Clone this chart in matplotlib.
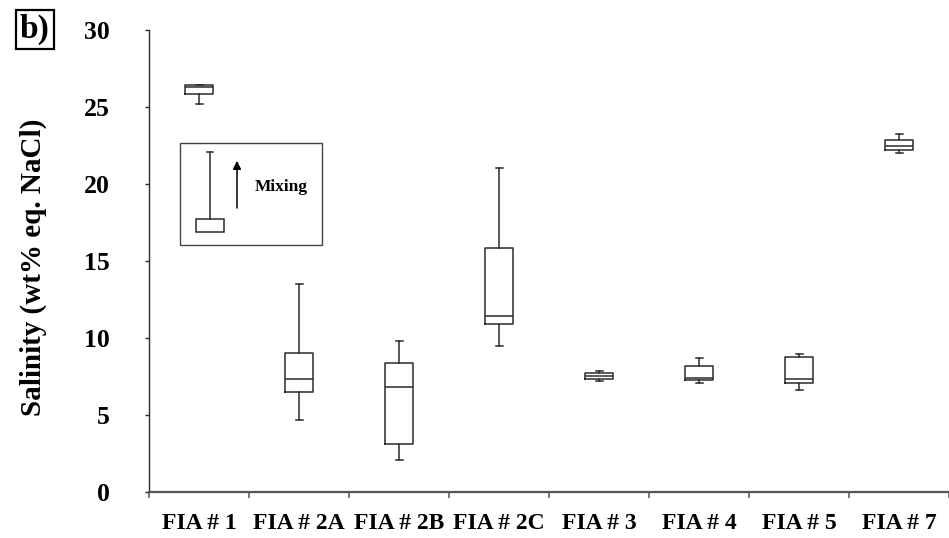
import numpy as np
import matplotlib.pyplot as plt
from matplotlib.patches import Rectangle

# salinity box statistics (wt% eq. NaCl)
groups = ['FIA # 1', 'FIA # 2A', 'FIA # 2B', 'FIA # 2C', 'FIA # 3', 'FIA # 4', 'FIA # 5', 'FIA # 7']
whislo = [25.2, 4.7, 2.1, 9.5, 7.2, 7.05, 6.6, 22.0]
q1 = [25.8, 6.5, 3.1, 10.9, 7.33, 7.25, 7.05, 22.2]
med = [26.25, 7.3, 6.8, 11.4, 7.5, 7.37, 7.35, 22.45]
q3 = [26.4, 9.0, 8.4, 15.8, 7.74, 8.15, 8.77, 22.85]
whishi = [26.4, 13.5, 9.8, 21.0, 7.85, 8.7, 8.95, 23.2]

plt.rcParams['font.family'] = 'Liberation Serif'
plt.rcParams['font.weight'] = 'bold'

fig = plt.figure(figsize=(9.49, 5.38), dpi=100)
ax = fig.add_axes([149 / 949, 46 / 538, 800 / 949, 462.5 / 538])

stats = []
for i in range(len(groups)):
    stats.append({'label': groups[i], 'whislo': whislo[i], 'q1': q1[i], 'med': med[i],
                  'q3': q3[i], 'whishi': whishi[i], 'fliers': []})

lc = '#2b2b2b'
ax.bxp(stats, positions=np.arange(len(groups)), widths=0.28, capwidths=0.07,
       showfliers=False,
       boxprops=dict(color=lc, linewidth=1.1),
       medianprops=dict(color=lc, linewidth=1.1),
       whiskerprops=dict(color=lc, linewidth=1.1),
       capprops=dict(color=lc, linewidth=1.1))

ax.set_xlim(-0.5, len(groups) - 0.5)
ax.set_ylim(0, 30)
ax.set_yticks(np.arange(0, 31, 5))

# ticks at the category boundaries, labels in between
ax.set_xticks(np.arange(len(groups) + 1) - 0.5)
ax.set_xticklabels([])
ax.set_xticks(np.arange(len(groups)), minor=True)
ax.set_xticklabels(groups, minor=True, fontsize=17, fontweight='bold')
ax.tick_params(axis='x', which='minor', length=0, pad=15)
ax.tick_params(axis='x', which='major', length=4, width=1.1, color='#555555', direction='out')
ax.tick_params(axis='y', length=3, width=1.0, color=lc, direction='out', pad=25, labelsize=18.5)
for t in ax.get_yticklabels():
    t.set_fontweight('bold')

ax.spines['top'].set_visible(False)
ax.spines['right'].set_visible(False)
ax.spines['left'].set_color(lc)
ax.spines['left'].set_linewidth(1.0)
ax.spines['bottom'].set_color('#555555')
ax.spines['bottom'].set_linewidth(1.6)

ax.set_ylabel('Salinity (wt% eq. NaCl)', fontsize=21, fontweight='bold')
ax.yaxis.set_label_coords(-0.127, 0.485)

# inset explaining the mixing trend
ax.add_patch(Rectangle((0.039, 0.534), 0.177, 0.221, transform=ax.transAxes,
                       fill=False, edgecolor='#444444', linewidth=1.0))
ax.add_patch(Rectangle((0.059, 0.562), 0.035, 0.028, transform=ax.transAxes,
                       fill=False, edgecolor=lc, linewidth=1.1))
ax.plot([0.076, 0.076], [0.590, 0.736], transform=ax.transAxes, color=lc, lw=1.1)
ax.plot([0.072, 0.080], [0.736, 0.736], transform=ax.transAxes, color=lc, lw=1.1)
ax.annotate('', xy=(0.110, 0.722), xytext=(0.110, 0.608), xycoords='axes fraction',
            arrowprops=dict(arrowstyle='-|>', color='black', lw=1.1, mutation_scale=12))
ax.text(0.1325, 0.660, 'Mixing', transform=ax.transAxes, fontsize=12.5,
        fontweight='bold', va='center', ha='left')

fig.text(0.0365, 0.945, 'b)', fontsize=24, fontweight='bold', ha='center', va='center',
         bbox=dict(boxstyle='square,pad=0.12', facecolor='white', edgecolor='black', linewidth=1.6))

fig.savefig('out.png', dpi=100)
